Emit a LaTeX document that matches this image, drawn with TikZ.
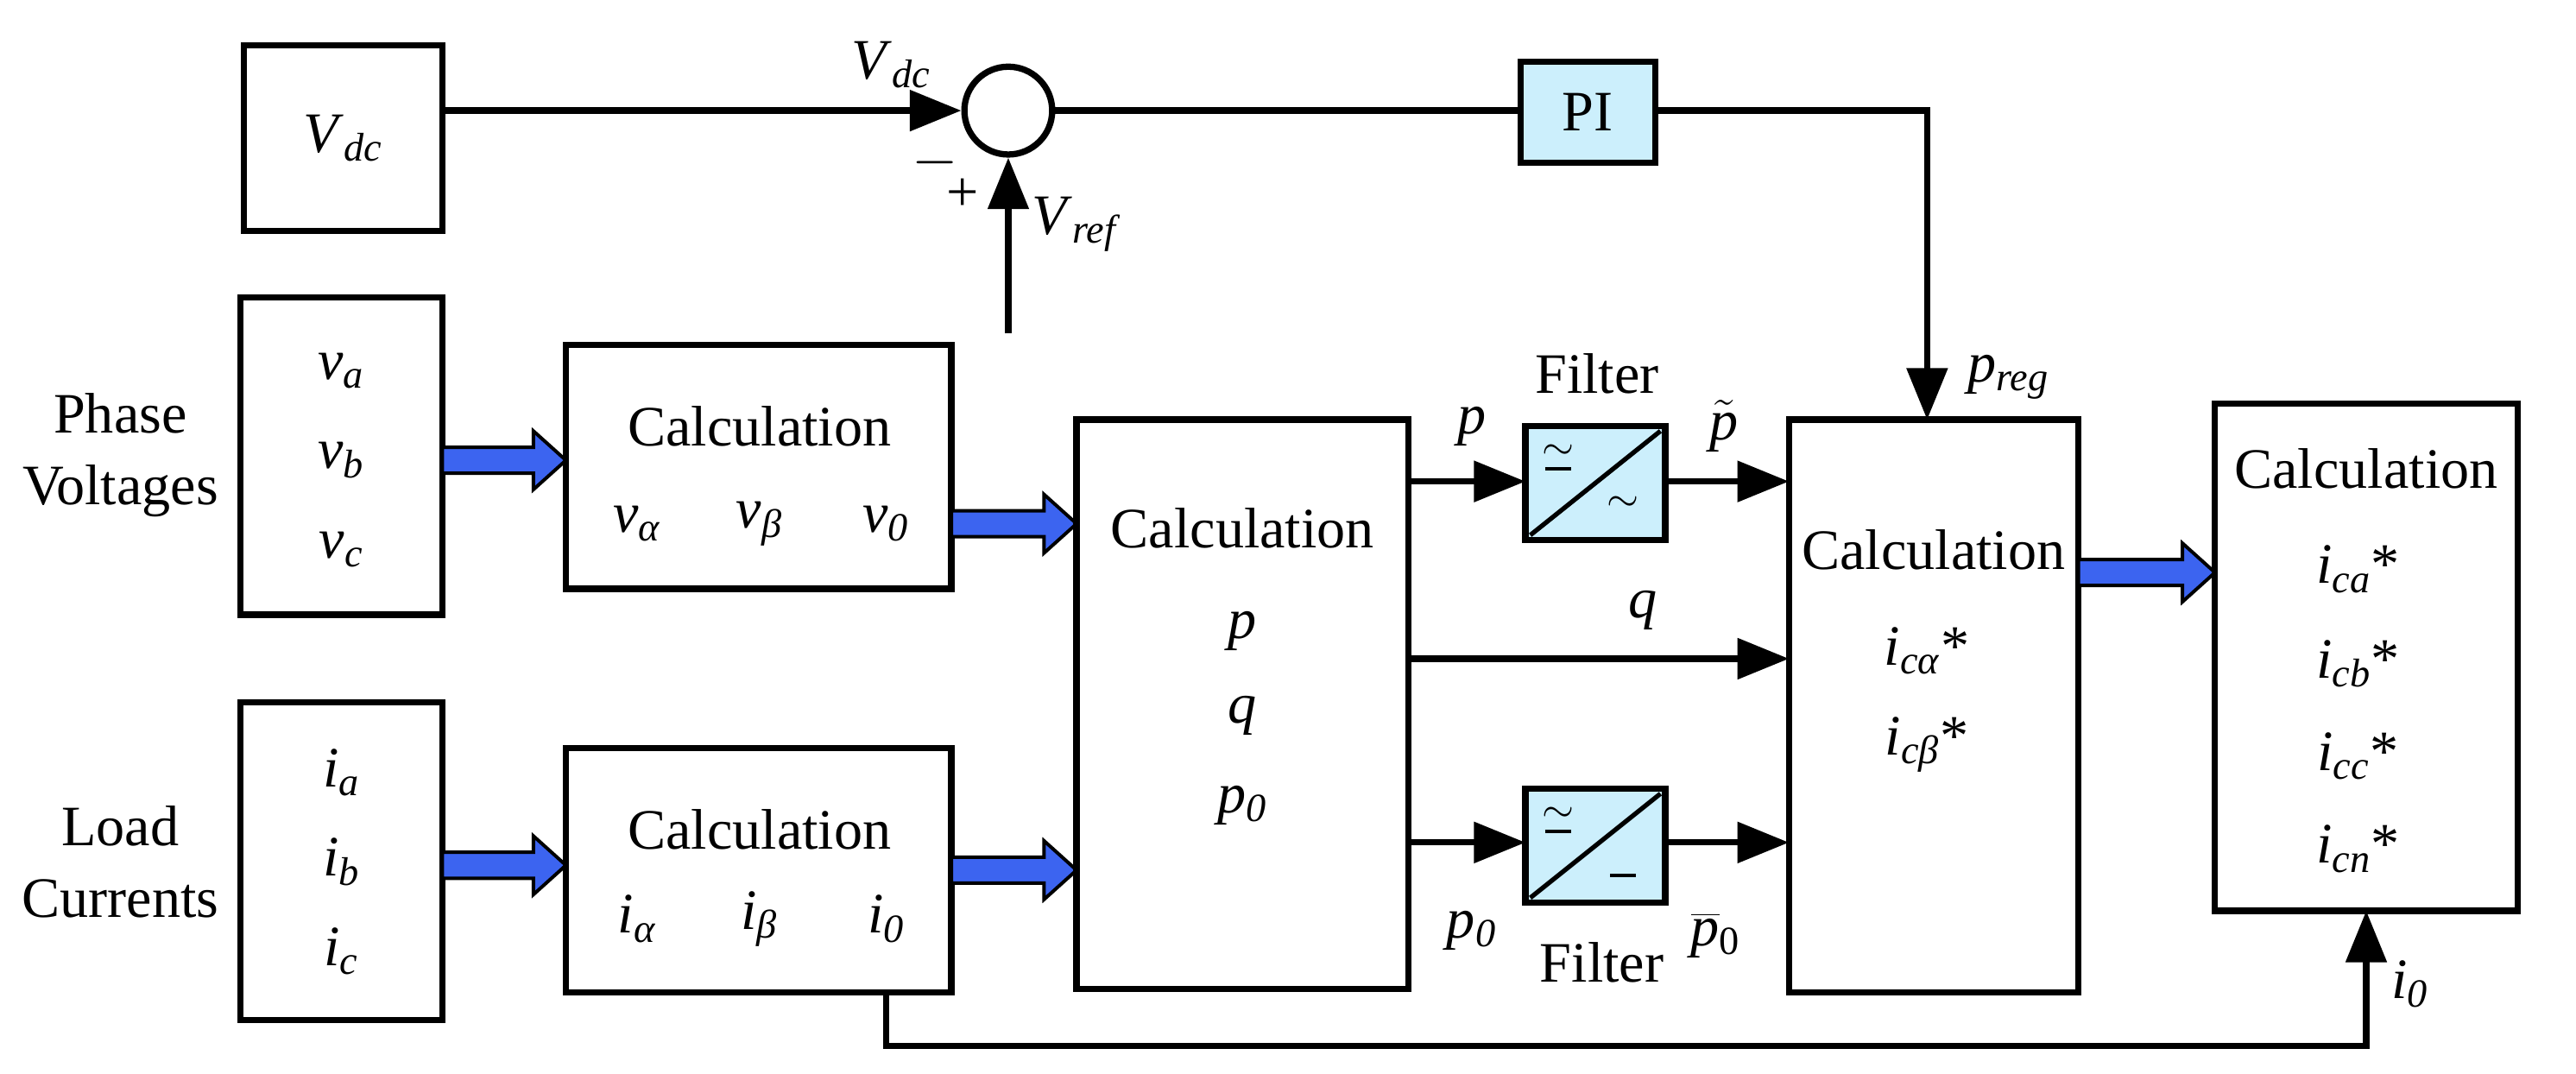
\documentclass[tikz,border=0pt]{standalone}
\usepackage{fontspec}
\setmainfont{Liberation Serif}
\usetikzlibrary{arrows.meta}
\newcommand\iv[2]{\textit{#1}\textsubscript{\textit{#2}}}
\begin{document}
\begin{tikzpicture}[x=0.02cm,y=-0.02cm,line width=2.2pt,
  box/.style={draw,line width=2.2pt,inner sep=0pt},
  T/.style={inner sep=0pt,font=\fontsize{20}{25}\selectfont},
  ar/.style={-{Triangle[length=18pt,width=14pt]}},
  fill1/.style={fill=cyan!20}]
\useasboundingbox (0,0) rectangle (1584,660);
\newcommand\fat[3]{\draw[line width=1.2pt,fill={rgb,255:red,60;green,100;blue,240}]
 (#1,#3-8) -- (#2-20,#3-8) -- (#2-20,#3-18) -- (#2,#3) -- (#2-20,#3+18) -- (#2-20,#3+8) -- (#1,#3+8) -- cycle;}
% boxes
\draw[box] (150,28) rectangle (272,142); \node[T] (vdc) at (211,85) {\iv{V}{dc}};
\node[draw,circle,minimum size=1.08cm,inner sep=0pt,line width=2.2pt] (sum) at (620,68) {};
\draw[box,fill1] (935,38) rectangle (1018,100); \node[T] (pi) at (976,69) {PI};
\coordinate (pir) at (1018,68);
\draw[ar] (272,68) -- (sum.west);
\node[T] at (548,40) {\iv{V}{dc}};
\node[T] at (575,100) {$-$};
\node[T] at (592,120) {+};
\node[T] at (662,138) {\iv{V}{ref}};
\coordinate (vr) at (620,205);
\draw[ar] (vr) -- (sum.south);
\draw (sum.east) -- (935,68);
\draw[ar] (pir) -- (1185,68) -- (1185,258);
\node[T,anchor=west] at (1208,232) {\iv{p}{reg}};
% phase voltages
\node[T,align=center] at (74,280) {Phase\\Voltages};
\draw[box] (148,183) rectangle (272,378);
\node[T] at (210,228) {\iv{v}{a}}; \node[T] at (210,283) {\iv{v}{b}}; \node[T] at (210,338) {\iv{v}{c}};
\fat{272}{348}{283}
\draw[box] (348,212) rectangle (585,362);
\node[T] at (467,262) {Calculation};
\node[T] at (392,322) {\iv{v}{α}}; \node[T] at (467,322) {\iv{v}{β}}; \node[T] at (545,322) {\iv{v}{0}};
\fat{585}{662}{322}
% load currents
\node[T,align=center] at (74,530) {Load\\Currents};
\draw[box] (148,432) rectangle (272,627);
\node[T] at (210,475) {\iv{i}{a}}; \node[T] at (210,530) {\iv{i}{b}}; \node[T] at (210,585) {\iv{i}{c}};
\fat{272}{348}{532}
\draw[box] (348,460) rectangle (585,610);
\node[T] at (467,510) {Calculation};
\node[T] at (392,565) {\iv{i}{α}}; \node[T] at (467,565) {\iv{i}{β}}; \node[T] at (545,565) {\iv{i}{0}};
\fat{585}{662}{535}
% pq
\draw[box] (662,258) rectangle (866,608);
\node[T] at (764,325) {Calculation};
\node[T] at (764,388) {\textit{p}}; \node[T] at (764,440) {\textit{q}}; \node[T] at (764,495) {\iv{p}{0}};
% filters
\foreach \y in {262,485}{
 \draw[box,fill1] (938,\y) rectangle (1024,\y+70);
 \draw[line width=1.6pt] (941,\y+67) -- (1021,\y+3);
 \node[T,font=\fontsize{14}{14}\selectfont] at (958,\y+16) {$\sim$};
 \draw[line width=1.2pt] (950,\y+26) -- (966,\y+26);
}
\node[T,font=\fontsize{14}{14}\selectfont] at (998,310) {$\sim$};
\draw[line width=1.2pt] (990,538) -- (1006,538);
\node[T] at (982,230) {Filter}; \node[T] at (985,592) {Filter};
\draw[ar] (866,296) -- (938,296); \node[T] at (905,262) {\textit{p}};
\draw[ar] (1024,296) -- (1100,296); \node[T] at (1060,262) {$\tilde{\textit{p}}$};
\draw[ar] (866,405) -- (1100,405); \node[T] at (1010,375) {\textit{q}};
\draw[ar] (866,518) -- (938,518); \node[T] at (905,572) {\iv{p}{0}};
\draw[ar] (1024,518) -- (1100,518); \node[T] at (1055,575) {$\overline{\textit{p}}$\textsubscript{0}};
% calc3
\draw[box] (1100,258) rectangle (1278,610);
\node[T] at (1189,338) {Calculation};
\node[T] at (1185,400) {\iv{i}{cα}*}; \node[T] at (1185,458) {\iv{i}{cβ}*};
\fat{1278}{1362}{352}
% calc4
\draw[box] (1362,248) rectangle (1548,560);
\node[T] at (1455,288) {Calculation};
\node[T] at (1450,350) {\iv{i}{ca}*}; \node[T] at (1450,408) {\iv{i}{cb}*};
\node[T] at (1450,465) {\iv{i}{cc}*}; \node[T] at (1450,522) {\iv{i}{cn}*};
\draw[ar] (545,610) -- (545,643) -- (1455,643) -- (1455,560);
\node[T] at (1482,605) {\iv{i}{0}};
\end{tikzpicture}
\end{document}
